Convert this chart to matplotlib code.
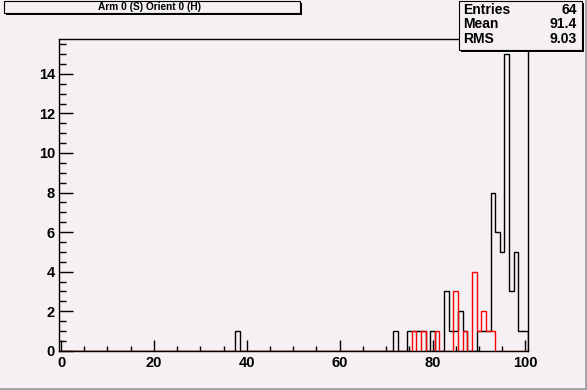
import numpy as np
import matplotlib
matplotlib.use('Agg')
import matplotlib.pyplot as plt
from matplotlib.patches import Rectangle

# bin centres (1-unit bins from -0.5 to 100.5) and their contents
black_bins = [38, 72, 75, 76, 77, 78, 80, 83, 84, 85, 86, 87, 90, 91, 92,
              93, 94, 95, 96, 97, 98, 99, 100]
black_counts = [1, 1, 1, 1, 1, 1, 1, 3, 1, 1, 2, 1, 1, 1, 1,
                8, 6, 5, 15, 3, 5, 1, 1]
red_bins = [76, 78, 81, 85, 87, 89, 90, 91, 92, 93]
red_counts = [1, 1, 1, 3, 1, 4, 1, 2, 1, 1]

title = "Arm 0 (S) Orient 0 (H)"
stat_names = ["Entries", "Mean", "RMS"]
stat_values = ["64", "91.4", "9.03"]

W, H = 587, 390
bg = '#f4f0f4'
plt.rcParams['font.family'] = ['Liberation Sans', 'DejaVu Sans']
plt.rcParams['font.weight'] = 'bold'

edges = np.arange(-0.5, 101.0, 1.0)
black = np.zeros(101)
black[black_bins] = black_counts
red = np.zeros(101)
red[red_bins] = red_counts

fig = plt.figure(figsize=(W / 100, H / 100), dpi=100, facecolor=bg)
ax = fig.add_axes([58.7 / W, 1 - 350.7 / H, 469 / W, 311.4 / H])
ax.set_facecolor(bg)

ax.stairs(black, edges, color='black', lw=1.0, zorder=3)
ax.stairs(red, edges, color='red', lw=1.0, zorder=4)

ax.set_xlim(-0.5, 100.5)
ax.set_ylim(0, 15.75)
ax.set_xticks(np.arange(0, 101, 20))
ax.set_xticks(np.arange(0, 101, 5), minor=True)
ax.set_yticks(np.arange(0, 15, 2))
ax.set_yticks(np.arange(0, 15.6, 0.5), minor=True)
ax.tick_params(axis='x', which='major', direction='in', length=8, width=1,
               pad=3.5, labelsize=10.5, top=False)
ax.tick_params(axis='x', which='minor', direction='in', length=3.6, width=1, top=False)
ax.tick_params(axis='y', which='major', direction='in', length=10, width=1,
               pad=2.7, labelsize=10.5, right=False)
ax.tick_params(axis='y', which='minor', direction='in', length=5, width=1, right=False)
for lab in ax.get_xticklabels() + ax.get_yticklabels():
    lab.set_fontweight('bold')
for s in ax.spines.values():
    s.set_linewidth(1)
    s.set_color('black')


def fx(x):
    return x / W


def fy(y):
    return 1 - y / H


def pave(x0, y0, x1, y1, sh):
    fig.patches.append(Rectangle((fx(x0 + sh), fy(y1 + sh)), fx(x1 - x0), (y1 - y0) / H,
                                 transform=fig.transFigure, facecolor='black',
                                 edgecolor='none', zorder=10))
    fig.patches.append(Rectangle((fx(x0), fy(y1)), fx(x1 - x0), (y1 - y0) / H,
                                 transform=fig.transFigure, facecolor=bg,
                                 edgecolor='black', lw=0.8, zorder=11))


# title box
pave(4, 1, 300, 13, 2)
fig.text(fx(150), fy(7.3), title, ha='center', va='center', fontsize=7.3,
         fontweight='bold', zorder=12)

# stats box
pave(459, 1, 582, 49.5, 2.3)
for i, (n, v) in enumerate(zip(stat_names, stat_values)):
    yy = 10 + 14.5 * i
    fig.text(fx(463), fy(yy), n, ha='left', va='center', fontsize=10,
             fontweight='bold', zorder=12)
    fig.text(fx(577), fy(yy), v, ha='right', va='center', fontsize=10,
             fontweight='bold', zorder=12)

# canvas bevel
fig.add_artist(plt.Line2D([0, 1], [fy(388.5)] * 2, transform=fig.transFigure,
                          color='#a0a0a0', lw=2))
fig.add_artist(plt.Line2D([fx(586)] * 2, [0, 1], transform=fig.transFigure,
                          color='#a0a0a0', lw=2))

fig.savefig('out.png', dpi=100, facecolor=bg)
